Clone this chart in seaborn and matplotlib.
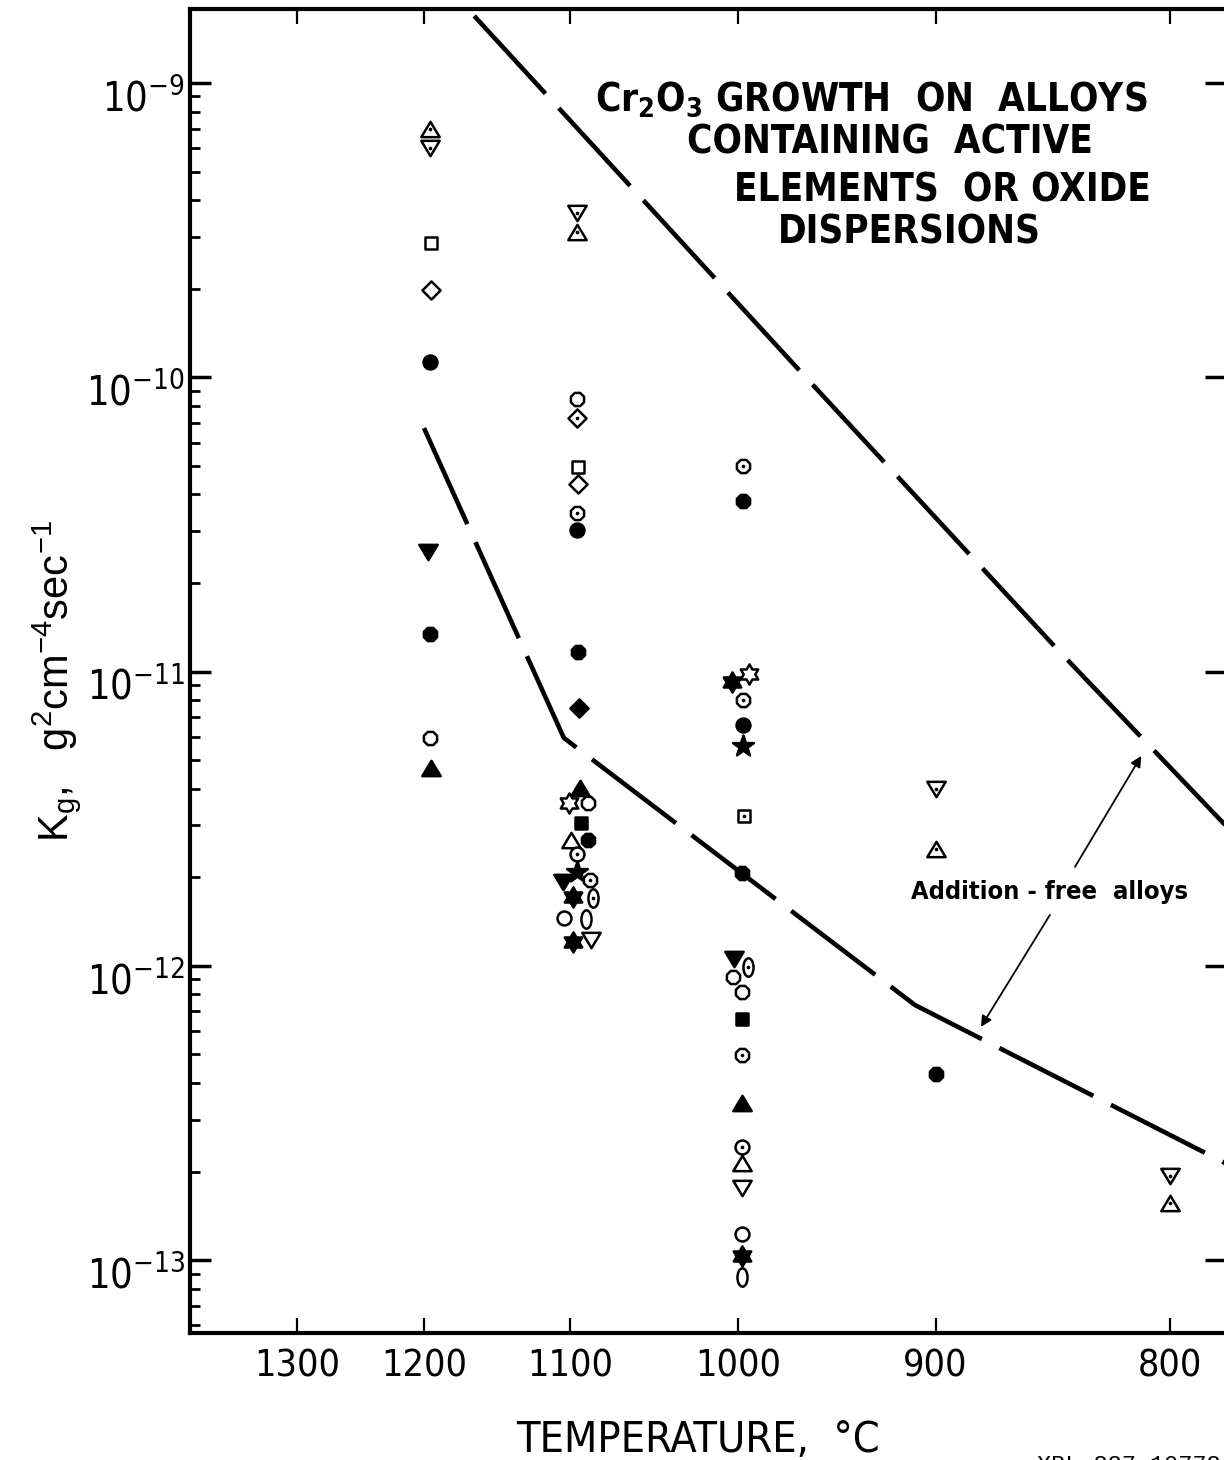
import numpy as np
import pandas as pd
import matplotlib
matplotlib.use("Agg")
import matplotlib.pyplot as plt
import seaborn as sns
from matplotlib import font_manager as fm
from matplotlib.font_manager import FontProperties
from matplotlib.path import Path
from matplotlib.transforms import ScaledTranslation
from matplotlib.ticker import FixedLocator, NullLocator, LogLocator, LogFormatterSciNotation

# ---------------- data ----------------
# marker codes: "<shape>.<fill>"  fill: open / fill / dot (open with centre dot)
T_1200 = [1196, 1196, 1195, 1195, 1196, 1197, 1196, 1196, 1195]
K_1200 = [6.95e-10, 6.02e-10, 2.86e-10, 1.98e-10, 1.13e-10, 2.55e-11, 1.34e-11, 5.95e-12, 4.70e-12]
M_1200 = ["tri_up.dot", "tri_down.dot", "square.open", "diamond.open", "circle.fill",
          "tri_down.fill", "cloud.fill", "cloud.open", "tri_up.fill"]

T_1100 = [1095.4, 1095.4, 1095.4, 1095.4, 1094.8, 1094.8, 1095.4, 1095.4, 1094.8, 1094.2,
          1093.5, 1100.5, 1088.5, 1092.9, 1099.2, 1088.5, 1095.4, 1095.4, 1104.3, 1087.2,
          1097.9, 1085.4, 1103.7, 1089.7, 1097.9, 1086.6]
K_1100 = [3.62e-10, 3.12e-10, 8.44e-11, 7.27e-11, 4.96e-11, 4.34e-11, 3.46e-11, 3.03e-11, 1.165e-11, 7.52e-12,
          4.02e-12, 3.58e-12, 3.58e-12, 3.06e-12, 2.68e-12, 2.68e-12, 2.40e-12, 2.08e-12, 1.93e-12, 1.96e-12,
          1.71e-12, 1.70e-12, 1.455e-12, 1.443e-12, 1.206e-12, 1.225e-12]
M_1100 = ["tri_down.dot", "tri_up.dot", "cloud.open", "diamond.dot", "square.open", "diamond.open",
          "cloud.dot", "circle.fill", "cloud.fill", "diamond.fill",
          "tri_up.fill", "hexagram.open", "cloud.open", "square.fill", "tri_up.open", "cloud.fill",
          "circle.dot", "star.fill", "tri_down.fill", "cloud.dot",
          "hexagram.fill", "oval.dot", "circle.open", "oval.open", "hexagram.fill", "tri_down.open"]

T_1000 = [997.6, 997.6, 994.4, 1003.5, 997.6, 997.6, 997.6, 997.1, 998.0, 1002.6, 994.7,
          1003.0, 998.0, 998.0, 998.0, 998.0, 998.0, 998.0, 998.0, 998.0, 998.0, 998.0]
K_1000 = [4.99e-11, 3.80e-11, 9.81e-12, 9.22e-12, 8.01e-12, 6.58e-12, 5.59e-12, 3.23e-12, 2.07e-12,
          1.056e-12, 9.91e-13, 9.17e-13, 8.15e-13, 6.60e-13, 4.98e-13, 3.42e-13, 2.42e-13, 2.14e-13,
          1.76e-13, 1.227e-13, 1.033e-13, 8.77e-14]
M_1000 = ["cloud.dot", "cloud.fill", "hexagram.open", "hexagram.fill", "cloud.dot", "circle.fill",
          "star.fill", "square.dot", "cloud.fill", "tri_down.fill", "oval.dot", "cloud.open",
          "cloud.open", "square.fill", "cloud.dot", "tri_up.fill", "circle.dot", "tri_up.open",
          "tri_down.open", "circle.open", "hexagram.fill", "oval.open"]

T_900 = [900, 900, 900]
K_900 = [3.99e-12, 2.50e-12, 4.29e-13]
M_900 = ["tri_down.dot", "tri_up.dot", "cloud.fill"]

T_800 = [800, 800]
K_800 = [1.93e-13, 1.56e-13]
M_800 = ["tri_down.dot", "tri_up.dot"]

# dashed boundary lines (temperature, Kg)
UPPER_T = [1164, 967.4, 846.3, 778.4]
UPPER_K = [1.69e-9, 1.058e-10, 1.203e-11, 2.99e-12]
LOWER_T = [1200.1, 1103.8, 909.7, 778.4]
LOWER_K = [6.72e-11, 5.95e-12, 7.36e-13, 2.13e-13]

X_TICKS = [1300, 1200, 1100, 1000, 900, 800]
X_TICK_LABELS = ["1300", "1200", "1100", "1000", "900", "800"]
Y_TICKS = [1e-13, 1e-12, 1e-11, 1e-10, 1e-9]
X_LIM = (1395.3, 778.4)
Y_LIM = (5.655e-14, 1.784e-9)

TITLE_LINES = [r"Cr$_\mathdefault{2}$O$_\mathdefault{3}$ GROWTH  ON  ALLOYS",
               "CONTAINING  ACTIVE", "ELEMENTS  OR OXIDE", "DISPERSIONS"]
NOTE = "Addition - free  alloys"
NOTE_POS = (849.0, 1.78e-12)
ARROW_UP = ((838.3, 2.17e-12), (811.2, 5.17e-12))
ARROW_DOWN = ((848.9, 1.49e-12), (879.2, 6.20e-13))

# ---------------- fonts ----------------
sns.set_style("ticks")


def weight_num(w):
    if isinstance(w, (int, float)):
        return int(w)
    return fm.weight_dict.get(str(w).lower(), 400)


def find_condensed(bold):
    prefs = ["Liberation Sans Narrow", "DejaVu Sans Condensed", "DejaVu Sans"]
    best, best_rank = None, 99
    for f in fm.fontManager.ttflist:
        nm = f.name
        if "Mono" in nm or "Serif" in nm:
            continue
        cond = ("Narrow" in nm) or ("Condensed" in nm) or ("ondensed" in str(f.stretch)) \
            or ("Condensed" in f.fname) or ("Narrow" in f.fname)
        if not cond or f.style != "normal":
            continue
        w = weight_num(f.weight)
        if bold != (w >= 600):
            continue
        rank = next((i for i, p in enumerate(prefs) if nm.startswith(p)), 10)
        if rank < best_rank:
            best, best_rank = f, rank
    return best


cond_reg = find_condensed(False)
cond_bold = find_condensed(True)


def fp_regular(size):
    if cond_reg is not None:
        return FontProperties(fname=cond_reg.fname, size=size)
    return FontProperties(family="Liberation Sans", size=size * 0.88)


def fp_bold(size):
    if cond_bold is not None:
        return FontProperties(fname=cond_bold.fname, size=size)
    return FontProperties(family="Liberation Sans", weight="bold", size=size)


plt.rcParams["font.family"] = ["Liberation Sans", "DejaVu Sans"]
plt.rcParams["mathtext.fontset"] = "custom"
plt.rcParams["mathtext.rm"] = "Liberation Sans"
for k in ["text.color", "axes.labelcolor", "xtick.color", "ytick.color", "axes.edgecolor"]:
    plt.rcParams[k] = "black"

# ---------------- data frame ----------------
df = pd.DataFrame({
    "T": T_1200 + T_1100 + T_1000 + T_900 + T_800,
    "K": K_1200 + K_1100 + K_1000 + K_900 + K_800,
    "code": M_1200 + M_1100 + M_1000 + M_900 + M_800,
})
df["shape"] = df["code"].str.split(".").str[0]
df["fill"] = df["code"].str.split(".").str[1]

circ = Path.unit_circle()
oval_path = Path(circ.vertices * np.array([0.55, 1.0]), circ.codes)
hexagram_path = Path.unit_regular_star(6, 0.577)
tri_up_path = Path([(0, 0.5), (-0.6, -0.5), (0.6, -0.5), (0, 0.5)],
                   [Path.MOVETO, Path.LINETO, Path.LINETO, Path.CLOSEPOLY])
tri_down_path = Path([(0, -0.5), (-0.6, 0.5), (0.6, 0.5), (0, -0.5)],
                     [Path.MOVETO, Path.LINETO, Path.LINETO, Path.CLOSEPOLY])
MARKERS = {"tri_up": tri_up_path, "tri_down": tri_down_path, "square": "s", "diamond": "D",
           "circle": "o", "cloud": "8", "hexagram": hexagram_path, "star": "*", "oval": oval_path}
SIZES = {"tri_up": 175, "tri_down": 175, "square": 85, "diamond": 85, "circle": 100,
         "cloud": 105, "hexagram": 210, "star": 250, "oval": 175}

fig = plt.figure(figsize=(12.24, 14.6), dpi=100)
ax = fig.add_axes([190 / 1224, 127 / 1460, 1036 / 1224, 1324 / 1460])


def fwd(t):
    t = np.asarray(t, dtype=float)
    with np.errstate(divide="ignore", invalid="ignore"):
        return -1e4 / (t + 273.15)


def inv(v):
    v = np.asarray(v, dtype=float)
    with np.errstate(divide="ignore", invalid="ignore"):
        return -1e4 / v - 273.15


ax.set_xscale("function", functions=(fwd, inv))
ax.set_yscale("log")

# dashed lines
dash = (0, (23, 4.3))
sns.lineplot(x=UPPER_T, y=UPPER_K, ax=ax, color="black", lw=3.3, linestyle=dash,
             sort=False, estimator=None, zorder=2)
sns.lineplot(x=LOWER_T, y=LOWER_K, ax=ax, color="black", lw=3.3, linestyle=dash,
             sort=False, estimator=None, zorder=2)

# markers
for (shape, fill), sub in df.groupby(["shape", "fill"], sort=False):
    sns.scatterplot(data=sub, x="T", y="K", marker=MARKERS[shape], s=SIZES[shape],
                    color="black" if fill == "fill" else "white", edgecolor="black",
                    linewidth=1.8, ax=ax, legend=False, zorder=3)
dots = df[df["fill"] == "dot"]
sns.scatterplot(data=dots, x="T", y="K", marker="o", s=7, color="black", linewidth=0,
                ax=ax, legend=False, zorder=4)

ax.set_xlim(*X_LIM)
ax.set_ylim(*Y_LIM)

ax.xaxis.set_major_locator(FixedLocator(X_TICKS))
ax.xaxis.set_minor_locator(NullLocator())
ax.set_xticklabels(X_TICK_LABELS)
ax.yaxis.set_major_locator(FixedLocator(Y_TICKS))
ax.yaxis.set_minor_locator(LogLocator(base=10, subs=np.arange(2, 10), numticks=20))
ax.yaxis.set_major_formatter(LogFormatterSciNotation())

for sp in ax.spines.values():
    sp.set_linewidth(3)
    sp.set_color("black")

ax.tick_params(axis="y", which="major", direction="in", length=15, width=2.5,
               left=True, right=True, pad=3.5)
ax.tick_params(axis="y", which="minor", direction="in", length=7, width=2,
               left=True, right=False, labelleft=False)
ax.tick_params(axis="x", which="major", direction="in", length=11, width=1.6,
               top=True, bottom=True, pad=11)
for lab in ax.get_xticklabels():
    lab.set_fontproperties(fp_regular(27))
shift = ScaledTranslation(0, -9 / 72, fig.dpi_scale_trans)
for lab in ax.get_yticklabels():
    lab.set_fontproperties(fp_regular(28.5))
    lab.set_transform(lab.get_transform() + shift)

ax.set_xlabel("TEMPERATURE,  °C", fontproperties=fp_regular(31))
ax.xaxis.set_label_coords(0.490, -0.065)
ax.set_ylabel(r"K$_\mathdefault{g}$,   g$^\mathdefault{2}$cm$^\mathdefault{-4}$sec$^\mathdefault{-1}$",
              fontsize=30, fontfamily=["Liberation Sans", "DejaVu Sans"], va="center")
ax.yaxis.set_label_coords(-0.129, 0.4924)

# title block (font size fitted so that the first line spans its width in the reference)
title_x = [595, 687, 734, 778]
title_y = [111, 154, 201, 244]
renderer = fig.canvas.get_renderer()
probe = fig.text(0, 0, TITLE_LINES[0], fontproperties=fp_bold(30))
w30 = probe.get_window_extent(renderer).width
probe.remove()
tsize = 30 * 552 / w30
for txt, px, py in zip(TITLE_LINES, title_x, title_y):
    fig.text(px / 1224, 1 - py / 1460, txt, fontproperties=fp_bold(tsize),
             ha="left", va="baseline")

# annotation
probe = fig.text(0, 0, NOTE, fontproperties=fp_bold(20))
wn = probe.get_window_extent(renderer).width
probe.remove()
ax.text(NOTE_POS[0], NOTE_POS[1], NOTE, fontproperties=fp_bold(20 * 278 / wn),
        ha="center", va="center")
for (start, head) in [ARROW_UP, ARROW_DOWN]:
    ax.annotate("", xy=head, xytext=start, xycoords="data", textcoords="data",
                arrowprops=dict(arrowstyle="-|>", lw=1.3, color="black",
                                mutation_scale=16, shrinkA=0, shrinkB=0))

fig.text(1037 / 1224, 1 - 1454 / 1460, "XBL 827-10778", fontsize=17,
         fontfamily=["Liberation Mono", "DejaVu Sans Mono"], ha="left", va="top")

fig.savefig("out.png", dpi=100)
